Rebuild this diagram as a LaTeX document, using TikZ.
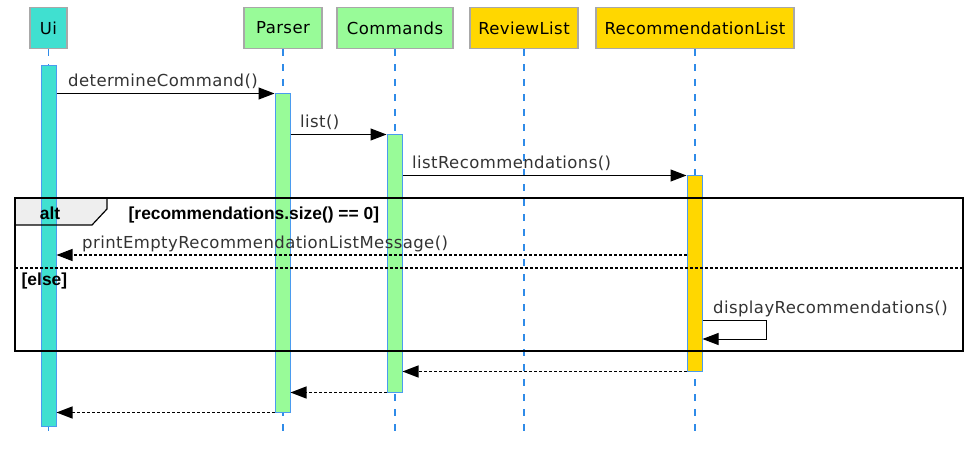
\documentclass[tikz,border=0pt]{standalone}
\usepackage{fontspec}
\setmainfont{DejaVu Sans}[LetterSpace=2.5]
\newfontfamily\guardfont{Liberation Sans}
\usetikzlibrary{arrows.meta}
\definecolor{uicol}{HTML}{40E0D0}
\definecolor{greencol}{HTML}{98FB98}
\definecolor{goldcol}{HTML}{FFD700}
\definecolor{hdrgray}{HTML}{A8A8A8}
\definecolor{lifeblue}{HTML}{2F8BE8}
\definecolor{actblue}{HTML}{4A9BEF}
\definecolor{labgray}{HTML}{333333}
\definecolor{tabgray}{HTML}{EEEEEE}
\begin{document}
\begin{tikzpicture}[x=1pt,y=-1pt,
  header/.style={draw=hdrgray, line width=1.5pt, minimum height=41pt, inner sep=0pt,
    font=\fontsize{16.5}{18}\selectfont, text=black},
  lifeline/.style={draw=lifeblue, line width=1.3pt, dash pattern=on 7pt off 8pt},
  act/.style={draw=actblue, line width=1pt, minimum width=15pt, inner sep=0pt},
  msg/.style={draw=black, line width=1.1pt, -{Triangle[length=16pt,width=12pt]}},
  ret/.style={draw=black, line width=1.3pt, dash pattern=on 3pt off 2pt, -{Triangle[length=16pt,width=12pt]}},
  lab/.style={anchor=base west, inner sep=0pt, text=labgray, font=\fontsize{16.5}{18}\selectfont},
  guard/.style={anchor=base west, inner sep=0pt, text=black, font=\guardfont\bfseries\fontsize{17.4}{19}\selectfont},
  frame/.style={draw=black, line width=2.2pt}
]
\useasboundingbox (0,0) rectangle (972,449);

% participants
\node[header, fill=uicol, minimum width=37pt] (ui) at (48.5,28) {Ui};
\node[header, fill=greencol, minimum width=78pt] (par) at (283,28) {Parser};
\node[header, fill=greencol, minimum width=116pt] (cmd) at (395,28) {Commands};
\node[header, fill=goldcol, minimum width=108pt] (rev) at (524,28) {ReviewList};
\node[header, fill=goldcol, minimum width=198pt] (rec) at (695,28) {RecommendationList};

% lifeline ends
\coordinate (uiend) at (48.5,433);
\coordinate (parend) at (283,433);
\coordinate (cmdend) at (395,433);
\coordinate (revend) at (524,433);
\coordinate (recend) at (695,433);

% alt frame tab fill (behind)
\coordinate (fnw) at (15,198);
\coordinate (fse) at (963,351);
\fill[tabgray] (fnw) -- ++(92,0) -- ++(0,11) -- ++(-15,16) -- ++(-77,0) -- cycle;

% lifelines
\draw[lifeline] (ui.south) -- (uiend);
\draw[lifeline] (par.south) -- (parend);
\draw[lifeline] (cmd.south) -- (cmdend);
\draw[lifeline] (rev.south) -- (revend);
\draw[lifeline] (rec.south) -- (recend);

% activation bars
\node[act, fill=uicol, minimum height=360pt] (uiA) at (48.5,246) {};
\node[act, fill=greencol, minimum height=318pt] (parA) at (282.5,253) {};
\node[act, fill=greencol, minimum height=257pt] (cmdA) at (394.5,263.5) {};
\node[act, fill=goldcol, minimum height=195pt] (recA) at (694.5,273.5) {};

% frame
\draw[frame] (fnw) rectangle (fse);
\draw[line width=1.2pt] (fnw) ++(92,0) -- ++(0,11) -- ++(-15,16) -- ++(-77,0);
\coordinate (sepy) at (0,268);
\draw[line width=1.3pt, dash pattern=on 3pt off 2pt] (fnw |- sepy) -- (fse |- sepy);
\node[guard, anchor=base] (altlab) at (50,220) {alt};
\node[guard] (cond) at (128.5,219.5) {[recommendations.size() == 0]};
\node[guard] (elselab) at (21.5,285.5) {[else]};

% messages
\draw[msg] (uiA.east |- parA.north) -- (parA.north west);
\node[lab] (m1) at (68,87) {determineCommand()};
\draw[msg] (parA.east |- cmdA.north) -- (cmdA.north west);
\node[lab] (m2) at (300,128) {list()};
\draw[msg] (cmdA.east |- recA.north) -- (recA.north west);
\node[lab] (m3) at (412,169) {listRecommendations()};

\coordinate (m4y) at (0,255);
\draw[ret] (recA.west |- m4y) -- (uiA.east |- m4y);
\node[lab] (m4) at (82,248.5) {printEmptyRecommendationListMessage()};

\coordinate (m5a) at (0,320);
\coordinate (m5b) at (0,339);
\draw[msg, line width=1pt] (recA.east |- m5a) -- ++(64,0) -- ++(0,19) -- (recA.east |- m5b);
\node[lab] (m5) at (713,313.5) {displayRecommendations()};

% returns
\draw[ret] (recA.south west) -- (cmdA.east |- recA.south);
\draw[ret] (cmdA.south west) -- (parA.east |- cmdA.south);
\draw[ret] (parA.south west) -- (uiA.east |- parA.south);
\end{tikzpicture}
\end{document}
